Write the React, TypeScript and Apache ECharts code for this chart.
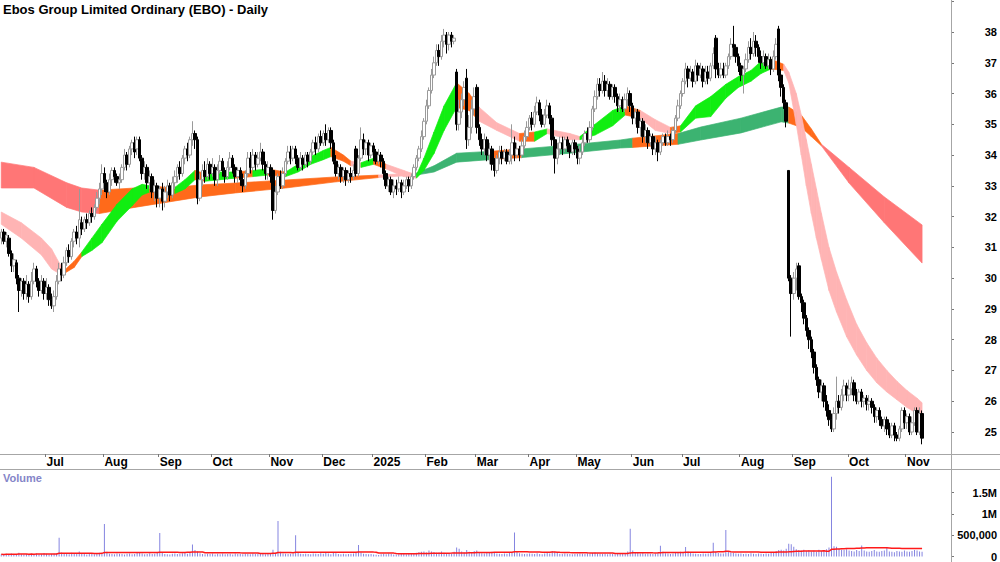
import React, { useEffect, useRef } from 'react';
import * as echarts from 'echarts';

const TITLE = 'Ebos Group Limited Ordinary (EBO) - Daily';
const START_DATE = '2024-06-04';
const TOTAL_SLOTS = 378;
const HOLIDAYS = ['2024-06-10', '2024-12-25', '2024-12-26', '2025-01-01', '2025-01-27', '2025-04-18', '2025-04-21', '2025-04-25', '2025-06-09'];
const MONTHS = ['Jan', 'Feb', 'Mar', 'Apr', 'May', 'Jun', 'Jul', 'Aug', 'Sep', 'Oct', 'Nov', 'Dec'];
const PRICE_TICKS = [25, 26, 27, 28, 29, 30, 31, 32, 33, 34, 35, 36, 37, 38];

// daily candles: [open, close, low, high]
const ohlc = [
  [31.3,31.5,31.1,31.6],[31.5,31.2,31.1,31.6],[31.2,31.4,31.0,31.5],[31.3,30.8,30.7,31.4],[30.8,30.4,30.2,30.9],
  [30.4,30.6,30.2,30.8],[30.5,30.0,29.8,30.6],[30.0,29.6,28.9,30.1],[29.6,29.9,29.4,30.0],[29.9,29.5,29.3,30.0],
  [29.5,29.8,29.3,30.1],[29.8,29.4,29.2,29.9],[29.4,29.9,29.3,30.2],[29.9,30.3,29.8,30.5],[30.3,29.9,29.7,30.4],
  [29.9,29.6,29.4,30.0],[29.6,29.9,29.5,30.1],[29.9,29.5,29.3,30.0],[29.5,29.7,29.3,30.0],[29.7,29.3,29.1,29.8],
  [29.3,29.1,29.0,29.5],[29.1,29.4,28.9,29.6],[29.4,29.9,29.3,30.1],[29.9,30.3,29.8,30.5],[30.3,30.1,29.9,30.5],
  [30.1,30.5,30.0,30.7],[30.5,30.9,30.4,31.0],[30.9,30.7,30.5,31.1],[30.7,31.2,30.6,31.3],[31.2,31.5,31.0,31.6],
  [31.5,31.3,31.1,31.7],[31.3,31.9,31.0,32.9],[31.8,31.6,31.4,32.0],[31.6,31.9,31.5,32.0],[31.9,31.8,31.6,32.1],
  [31.8,32.1,31.7,32.2],[32.1,32.0,31.8,32.3],[32.0,32.3,31.9,32.4],[32.3,32.6,32.2,32.8],[32.6,32.9,32.4,33.1],
  [32.9,33.4,32.7,33.7],[33.4,33.1,32.8,33.6],[33.1,32.8,32.6,33.2],[32.8,33.2,32.7,33.4],[33.2,33.5,33.0,33.6],
  [33.5,33.3,33.1,33.6],[33.3,33.1,33.0,33.4],[33.1,33.2,32.9,33.4],[33.2,33.6,33.1,33.7],[33.6,34.0,33.5,34.2],
  [34.0,33.7,33.5,34.1],[33.7,34.2,33.6,34.3],[34.2,34.4,34.0,34.5],[34.4,34.1,33.9,34.6],[34.2,34.5,34.0,34.6],
  [34.5,33.9,33.8,34.6],[33.9,33.4,33.2,34.0],[33.4,33.6,33.2,33.8],[33.6,33.1,32.9,33.7],[33.1,33.3,32.9,33.5],
  [33.3,32.8,32.6,33.4],[32.8,33.0,32.5,33.2],[33.0,32.6,32.3,33.1],[32.6,32.9,32.3,33.0],[32.9,32.5,32.2,33.1],
  [32.5,32.8,32.3,33.0],[32.8,33.0,32.6,33.2],[33.0,32.7,32.5,33.1],[32.7,33.1,32.6,33.3],[33.1,33.3,32.9,33.5],
  [33.3,33.6,33.1,33.7],[33.6,33.4,33.2,33.8],[33.4,33.9,33.3,34.0],[33.9,34.2,33.7,34.3],[34.2,34.0,33.8,34.4],
  [34.0,34.5,33.9,34.6],[34.5,34.7,34.3,35.1],[34.7,34.5,34.2,34.8],[34.5,32.6,32.4,34.6],[32.6,33.2,32.5,33.4],
  [33.2,33.5,33.0,33.7],[33.5,33.3,33.1,33.8],[33.3,33.7,33.2,33.9],[33.7,33.4,33.2,33.8],[33.4,33.6,33.3,33.9],
  [33.6,33.2,33.0,33.7],[33.2,33.5,33.0,33.7],[33.5,33.8,33.4,34.0],[33.8,33.5,33.3,33.9],[33.5,33.3,33.1,33.6],
  [33.3,33.6,33.2,33.8],[33.6,33.9,33.5,34.1],[33.9,33.6,33.4,34.0],[33.6,33.3,33.1,33.7],[33.3,33.5,33.1,33.6],
  [33.5,33.2,33.0,33.6],[33.2,33.0,32.8,33.4],[33.0,33.4,32.9,33.5],[33.4,33.9,33.3,34.1],[33.9,33.6,33.4,34.1],
  [33.6,34.0,33.5,34.2],[34.0,33.7,33.5,34.1],[33.7,33.9,33.6,34.1],[33.9,34.1,33.8,34.4],[34.1,33.7,33.5,34.2],
  [33.7,33.4,33.2,33.8],[33.4,33.6,33.2,33.8],[33.6,33.3,33.1,33.7],[33.5,32.2,31.9,33.6],[32.2,32.8,32.1,33.0],
  [32.8,33.3,32.7,33.4],[33.3,33.0,32.9,33.5],[33.0,33.4,32.9,33.6],[33.4,33.8,33.3,33.9],[33.8,34.1,33.7,34.3],
  [34.1,33.9,33.7,34.3],[33.9,34.2,33.8,34.3],[34.2,33.9,33.7,34.3],[33.9,33.6,33.5,34.0],[33.6,33.9,33.5,34.1],
  [33.9,33.7,33.5,34.0],[33.7,34.0,33.6,34.1],[34.0,33.8,33.6,34.1],[33.8,34.1,33.7,34.2],[34.1,34.4,34.0,34.5],
  [34.4,34.2,34.0,34.6],[34.2,34.6,34.1,34.7],[34.6,34.4,34.3,34.8],[34.4,34.7,34.3,34.8],[34.7,34.5,34.3,35.0],
  [34.5,34.8,34.4,34.9],[34.8,34.4,34.2,34.9],[34.4,33.8,33.7,34.5],[33.8,33.4,33.3,34.0],[33.4,33.6,33.2,33.7],
  [33.6,33.3,33.1,33.7],[33.3,33.5,33.1,33.6],[33.5,33.2,33.0,33.6],[33.2,33.4,33.1,33.5],[33.4,33.3,33.1,33.6],
  [33.3,33.5,33.2,33.7],[34.2,33.4,33.3,34.3],[33.4,33.9,33.3,34.0],[33.9,34.5,33.8,34.9],[34.5,34.2,34.0,34.7],
  [34.2,34.4,34.0,34.5],[34.4,34.0,33.8,34.5],[34.0,34.3,33.9,34.4],[34.3,34.1,33.8,34.4],[34.1,33.8,33.7,34.2],
  [33.8,34.0,33.7,34.2],[34.0,33.8,33.6,34.1],[33.8,33.4,33.2,33.9],[33.4,33.0,32.9,33.5],[33.0,33.2,32.8,33.3],
  [33.2,32.8,32.7,33.3],[32.8,33.0,32.6,33.2],[33.0,32.9,32.7,33.2],[32.9,33.1,32.8,33.3],[33.1,32.8,32.6,33.2],
  [32.8,33.0,32.7,33.2],[33.0,33.2,32.9,33.3],[33.2,33.0,32.8,33.3],[33.0,33.3,32.9,33.4],[33.3,33.6,33.2,33.7],
  [33.6,33.9,33.5,34.0],[33.9,34.2,33.8,34.3],[34.2,34.6,34.1,34.8],[34.6,35.1,34.5,35.2],[35.1,35.6,35.0,35.8],
  [35.6,36.1,35.5,36.2],[36.1,36.6,36.0,36.8],[36.6,37.0,36.5,37.2],[37.0,37.4,36.9,37.6],[37.4,37.2,36.9,37.6],
  [37.2,37.7,37.1,37.9],[37.7,37.9,37.5,38.1],[37.9,37.6,37.3,38.0],[37.6,37.9,37.4,38.0],[37.9,37.7,37.5,38.0],
  [37.7,37.8,37.6,37.9],[36.7,35.0,34.8,36.8],[35.0,35.4,34.8,35.8],[35.4,35.8,35.2,36.0],[35.8,36.2,35.6,36.4],
  [36.5,34.5,34.2,36.8],[34.5,34.9,34.3,35.3],[34.9,35.5,34.7,35.8],[35.5,35.9,35.3,36.2],[36.2,34.9,34.7,36.3],
  [34.9,34.5,34.3,35.0],[34.5,34.2,34.0,34.7],[34.2,34.5,34.0,34.7],[34.5,34.0,33.8,34.6],[34.0,34.2,33.7,34.4],
  [34.2,33.7,33.5,34.3],[33.7,33.5,33.3,33.9],[33.5,33.9,33.4,34.0],[33.9,34.1,33.7,34.3],[34.1,33.9,33.7,34.3],
  [33.9,34.1,33.8,34.2],[34.1,33.8,33.7,34.2],[33.8,34.0,33.7,34.2],[34.0,34.4,33.7,35.0],[34.4,34.0,33.8,34.6],
  [34.0,34.2,33.9,34.4],[34.2,34.0,33.8,34.3],[34.0,34.3,33.9,34.5],[34.3,34.6,34.2,34.8],[34.6,34.9,34.5,35.1],
  [34.9,35.2,34.8,35.3],[35.2,35.0,34.8,35.4],[35.0,35.4,34.9,35.6],[35.4,35.7,35.3,35.9],[35.7,35.3,35.1,35.8],
  [35.3,35.0,34.9,35.5],[35.0,35.3,34.9,35.5],[35.3,35.6,35.2,35.8],[35.6,35.2,35.0,35.7],[35.2,34.5,34.3,35.3],
  [34.5,33.9,33.4,34.6],[33.9,34.2,33.7,34.4],[34.2,34.4,34.0,34.6],[34.4,34.2,34.0,34.6],[34.2,34.5,34.1,34.6],
  [34.5,34.3,34.1,34.6],[34.3,34.1,33.9,34.4],[34.1,34.4,34.0,34.5],[34.4,34.2,34.0,34.5],[34.2,33.9,33.7,34.3],
  [33.9,34.1,33.7,34.3],[34.1,34.4,34.0,34.6],[34.4,34.7,34.3,34.8],[34.7,34.5,34.4,34.9],[34.5,34.9,34.4,35.1],
  [34.9,35.5,34.8,35.6],[35.5,35.9,35.4,36.1],[35.9,36.3,35.8,36.5],[36.3,36.1,35.9,36.5],[36.1,36.4,36.0,36.7],
  [36.4,36.1,35.9,36.6],[36.1,36.3,35.9,36.5],[36.3,35.9,35.8,36.4],[35.9,36.2,35.8,36.3],[36.2,35.9,35.7,36.3],
  [35.9,35.6,35.4,36.0],[35.6,35.8,35.4,36.0],[35.8,35.5,35.4,35.9],[35.5,35.8,35.4,36.0],[35.8,36.0,35.6,36.2],
  [36.0,35.6,35.4,36.1],[35.6,35.2,35.0,35.7],[35.2,35.4,35.0,35.5],[35.4,34.9,34.7,35.5],[34.9,35.1,34.6,35.2],
  [35.1,34.6,34.4,35.2],[34.6,34.8,34.4,35.0],[34.8,34.4,34.2,34.9],[34.4,34.6,34.3,34.7],[34.6,34.2,34.0,34.7],
  [34.2,34.4,34.0,34.6],[34.4,34.1,33.8,34.5],[34.1,34.4,34.0,34.5],[34.4,34.6,34.3,34.7],[34.6,34.4,34.3,34.7],
  [34.4,34.6,34.3,34.8],[34.6,34.5,34.3,34.7],[34.5,34.8,34.4,34.9],[34.8,35.2,34.7,35.3],[35.2,35.6,35.1,35.8],
  [35.6,36.0,35.5,36.1],[36.0,36.4,35.9,36.5],[36.4,36.8,36.3,37.0],[36.8,36.5,36.2,36.9],[36.5,36.7,36.4,36.9],
  [36.7,36.4,36.2,36.8],[36.4,36.9,36.3,37.1],[36.9,36.6,36.4,37.0],[36.6,36.8,36.5,37.0],[36.8,36.4,36.2,36.9],
  [36.4,36.7,36.3,36.9],[36.7,36.5,36.3,36.9],[36.5,36.9,36.4,37.0],[36.9,37.3,36.8,37.5],[37.8,36.8,36.5,37.9],
  [36.8,36.6,36.5,37.0],[36.6,36.8,36.5,37.0],[36.8,36.6,36.5,37.0],[36.6,36.9,36.5,37.0],[36.9,37.2,36.8,37.3],
  [37.2,37.6,37.1,37.8],[37.6,37.5,37.2,38.2],[37.5,37.2,37.0,37.6],[37.2,36.9,36.7,37.3],[36.9,36.6,36.4,37.0],
  [36.6,36.8,36.0,36.9],[36.8,37.1,36.7,37.3],[37.1,37.5,37.0,37.7],[37.5,37.3,37.1,37.8],[37.3,37.7,37.2,38.0],
  [37.7,37.5,37.2,37.9],[37.5,37.2,37.0,37.6],[37.2,37.0,36.8,37.4],[37.0,37.2,36.9,37.4],[37.2,36.9,36.8,37.3],
  [36.9,37.1,36.8,37.3],[37.1,36.8,36.6,37.2],[36.8,37.2,36.7,37.4],[37.2,37.6,37.1,37.8],[38.1,36.6,36.4,38.2],
  [36.6,36.2,35.9,36.8],[36.2,35.7,35.5,36.3],[35.7,35.1,34.9,35.8],[33.5,30.0,29.9,33.5],[30.0,29.5,28.1,30.1],
  [29.5,30.0,29.3,30.2],[30.0,30.3,29.6,30.5],[30.4,29.4,29.3,30.5],[29.4,29.2,28.9,29.5],[29.2,28.7,28.5,29.3],
  [28.7,28.3,28.1,28.8],[28.3,28.0,27.7,28.4],[28.0,27.6,27.4,28.1],[27.6,27.1,26.9,27.7],[27.1,26.7,26.5,27.2],
  [26.7,26.3,26.1,26.8],[26.3,26.5,26.0,26.7],[26.5,26.0,25.8,26.6],[26.0,25.7,25.5,26.2],[25.7,25.4,25.2,25.9],
  [25.4,25.1,25.0,25.6],[25.1,25.6,25.0,25.8],[25.6,26.0,25.4,26.8],[26.0,25.8,25.6,26.2],[25.8,26.2,25.7,26.4],
  [26.2,26.5,26.0,26.7],[26.5,26.2,26.0,26.6],[26.2,26.4,26.0,26.7],[26.4,26.6,26.2,26.8],[26.6,26.2,26.0,26.7],
  [26.2,26.0,25.9,26.4],[26.0,26.3,25.9,26.4],[26.3,26.0,25.8,26.4],[26.0,26.1,25.8,26.2],[26.1,25.9,25.7,26.2],
  [25.9,26.0,25.7,26.2],[26.0,25.8,25.6,26.1],[25.8,25.5,25.3,25.9],[25.5,25.7,25.3,25.8],[25.7,25.4,25.2,25.8],
  [25.4,25.2,25.1,25.5],[25.2,25.4,25.0,25.5],[25.4,25.1,24.9,25.5],[25.1,24.9,24.8,25.3],[24.9,25.2,24.8,25.3],
  [25.2,24.9,24.7,25.3],[24.9,24.8,24.7,25.0],[24.8,25.1,24.7,25.2],[25.1,25.7,25.0,25.8],[25.7,25.3,25.1,25.8],
  [25.3,25.5,25.1,25.6],[25.5,25.0,24.9,25.6],[25.0,25.3,24.9,25.5],[25.3,25.7,25.2,25.8],[25.7,25.0,24.9,25.8],
  [25.0,25.6,24.9,25.8],[25.6,24.8,24.6,25.7]
];

// daily volume in thousands of shares
const volumeK = [
  55,40,62,48,70,45,58,90,52,44, 60,38,66,50,72,47,55,80,63,49, 58,66,75,440,95,60,70,52,85,64,
  78,120,58,66,49,72,60,55,68,90, 75,760,110,64,58,50,70,62,57,48, 66,72,54,60,80,95,70,52,61,75,
  58,66,90,550,85,60,55,49,64,70, 58,62,75,80,66,90,280,150,120,74, 60,52,66,58,70,47,62,55,68,50,
  57,63,48,70,56,62,51,66,60,54, 72,58,64,80,62,55,68,74,160,90, 830,110,70,64,58,66,72,500,95,62,
  56,64,60,52,70,66,58,75,62,80, 68,54,95,78,60,55,64,50,58,62, 70,88,270,96,64,58,52,60,45,40,
  38,55,62,50,70,58,48,44,52,60, 56,50,62,58,70,85,98,110,120,95, 140,115,105,88,96,120,90,84,76,70,
  110,210,180,120,96,150,110,90,130,140, 88,76,70,92,80,110,96,70,64,58, 72,66,80,90,560,110,74,66,58,62,
  70,64,58,76,60,55,68,90,72,130, 110,80,62,56,70,64,58,52,60,66, 70,62,58,74,66,80,92,70,64,58,
  62,55,68,60,52,58,64,70,80,120, 650,140,96,80,72,85,66,70,62,58, 64,90,250,110,76,68,60,72,80,90,
  110,96,220,120,84,70,66,60,58,72, 66,70,84,320,110,80,72,68,620,130, 96,80,72,64,70,58,66,60,74,62,
  56,70,64,58,72,66,80,90,130,150, 160,140,180,300,290,230,170,150,140,160, 130,150,120,140,110,160,130,150,170,210,
  1870,240,230,180,160,150,170,140,130,120, 150,130,260,140,120,110,130,150,120,110, 130,140,210,120,110,100,130,120,110,140,
  120,110,130,150,140,120,110
];

// short-term moving-average ribbon, read at sample bars: bar index, upper, lower, colour state from that bar on
const shortIdx = [0,8,16,20,23,25,29,32,36,40,46,52,56,59,66,69,73,77,81,87,93,100,106,113,118,123,128,131,136,139,143,148,153,160,165,168,172,176,181,186,190,197,206,212,217,226,230,236,243,248,254,260,266,270,276,282,288,293,298,302,306,311,313,316,318,320,322,324,326,329,332,336,340,344,348,352,356,360,364,366];
const shortUp = [32.15,31.8,31.3,30.95,30.5,30.25,30.55,30.85,31.3,31.75,32.4,32.9,33.05,33.0,32.95,32.95,33.2,33.5,33.4,33.45,33.45,33.5,33.55,33.45,33.7,33.95,34.15,34.25,34.0,33.8,33.75,33.9,33.7,33.5,33.35,33.9,34.75,35.6,36.35,36.0,35.55,35.05,34.7,34.75,34.85,34.7,34.6,35.0,35.45,35.6,35.45,35.15,34.9,34.95,35.6,35.9,36.3,36.55,36.75,37.05,37.12,36.95,36.7,36.0,35.3,34.5,33.7,32.9,32.1,31.0,30.2,29.3,28.5,27.9,27.4,27.0,26.65,26.35,26.1,25.95];
const shortLo = [31.75,31.3,30.75,30.3,30.15,30.15,30.35,30.7,30.9,31.15,31.85,32.35,32.7,32.8,32.8,32.75,32.9,33.2,33.15,33.2,33.25,33.3,33.35,33.3,33.45,33.7,33.85,33.95,33.8,33.65,33.6,33.7,33.55,33.3,33.25,33.5,34.05,34.8,35.55,35.45,35.1,34.8,34.45,34.45,34.7,34.5,34.5,34.65,34.95,35.3,35.2,34.8,34.7,34.75,35.2,35.25,35.85,36.2,36.4,36.65,36.8,36.75,36.35,35.0,34.0,33.0,32.1,31.3,30.6,29.6,28.9,28.1,27.5,27.0,26.6,26.3,26.05,25.8,25.6,25.5];
const shortState = ['P','P','P','P','P','O','O','G','G','G','G','G','G','O','O','G','G','O','G','G','O','G','O','G','G','G','G','O','O','P','G','O','P','P','G','G','G','G','O','O','P','P','O','G','P','P','G','G','G','O','P','P','O','G','G','G','G','G','G','G','O','P','P','P','P','P','P','P','P','P','P','P','P','P','P','P','P','P','P','P'];

// long-term moving-average ribbon
const longIdx = [0,13,26,32,39,53,66,79,93,113,133,150,165,172,181,194,207,226,246,251,269,278,294,310,313,318,322,326,337,351,366];
const longUp = [33.77,33.6,33.1,32.93,32.86,32.93,32.93,33.03,33.09,33.19,33.29,33.35,33.42,33.65,34.06,34.12,34.2,34.33,34.49,34.55,34.7,34.91,35.2,35.56,35.56,35.3,34.85,34.35,33.6,32.64,31.73];
const longLo = [32.93,32.93,32.3,32.15,32.1,32.3,32.47,32.64,32.77,32.93,33.13,33.27,33.35,33.45,33.77,33.85,33.92,34.06,34.23,34.25,34.35,34.49,34.72,35.08,35.04,34.9,34.6,34.3,33.09,31.8,30.49];
const longState = ['R','R','R','R','O','O','O','O','O','O','O','P','G','G','G','O','G','G','G','O','G','G','G','G','O','O','O','R','R','R','R'];

const SHORT_COLORS: Record<string, string> = { G: '#11ee11', O: '#ff6a1a', P: '#ffb4b4' };
const LONG_COLORS: Record<string, string> = { G: '#3cb371', O: '#ff6a1a', R: '#ff7676', P: '#ffb4b4' };

const FONT = "'Liberation Sans', Arial, sans-serif";
const NARROW_FONT = "'Liberation Sans Narrow', 'Arial Narrow', 'Liberation Sans', sans-serif";

function tradingDays(start: string, n: number): string[] {
  const out: string[] = [];
  const d = new Date(start + 'T00:00:00Z');
  while (out.length < n) {
    const dow = d.getUTCDay();
    const iso = d.toISOString().slice(0, 10);
    if (dow !== 0 && dow !== 6 && HOLIDAYS.indexOf(iso) < 0) out.push(iso);
    d.setUTCDate(d.getUTCDate() + 1);
  }
  return out;
}

function ribbonSegments(idx: number[], up: number[], lo: number[]) {
  const out: number[][] = [];
  for (let k = 0; k < idx.length - 1; k++) {
    out.push([idx[k], up[k], lo[k], idx[k + 1], up[k + 1], lo[k + 1]]);
  }
  return out;
}

function ribbonSeries(name: string, idx: number[], up: number[], lo: number[], state: string[], palette: Record<string, string>, z: number) {
  const fills = state.map((s) => palette[s]);
  return {
    name,
    type: 'custom',
    xAxisIndex: 0,
    yAxisIndex: 0,
    z,
    silent: true,
    clip: true,
    dimensions: ['x0', 'u0', 'l0', 'x1', 'u1', 'l1'],
    encode: { x: [0, 3], y: [1, 2, 4, 5] },
    data: ribbonSegments(idx, up, lo),
    renderItem: (params: any, api: any) => {
      const a = api.coord([api.value(0), api.value(1)]);
      const b = api.coord([api.value(3), api.value(4)]);
      const c = api.coord([api.value(3), api.value(5)]);
      const d = api.coord([api.value(0), api.value(2)]);
      const fill = fills[params.dataIndex];
      return {
        type: 'polygon',
        shape: { points: [a, b, c, d] },
        style: { fill, stroke: fill, lineWidth: 0.7 },
      };
    },
  };
}

export default function App() {
  const ref = useRef<HTMLDivElement>(null);

  useEffect(() => {
    if (!ref.current) return;
    const chart = echarts.init(ref.current, null, { renderer: 'svg' });
    const dates = tradingDays(START_DATE, TOTAL_SLOTS);
    const isMonthStart = (i: number) => i > 0 && dates[i].slice(0, 7) !== dates[i - 1].slice(0, 7);
    const monthLabel = (v: string) => {
      const m = parseInt(v.slice(5, 7), 10);
      return m === 1 ? v.slice(0, 4) : MONTHS[m - 1];
    };
    const volume = volumeK.map((v) => v * 1000);
    const volAvg: number[] = [];
    const WIN = 40;
    for (let i = 0; i < volume.length; i++) {
      let s = 0;
      let n = 0;
      for (let j = Math.max(0, i - WIN + 1); j <= i; j++) { s += volume[j]; n++; }
      volAvg.push(Math.round(s / n));
    }

    const axisGray = '#a6a6a6';
    const option: any = {
      animation: false,
      backgroundColor: '#ffffff',
      textStyle: { fontFamily: FONT },
      title: {
        text: TITLE,
        left: 3,
        top: 3,
        padding: 0,
        textStyle: { fontFamily: NARROW_FONT, fontSize: 13, fontWeight: 'bold', color: '#000' },
      },
      grid: [
        { left: 0, top: 0, width: 951, height: 454 },
        { left: 0, top: 472, width: 951, height: 86 },
      ],
      xAxis: [
        {
          type: 'category',
          gridIndex: 0,
          data: dates,
          boundaryGap: true,
          axisLine: { lineStyle: { color: axisGray, width: 1 } },
          axisTick: { show: true, interval: (i: number) => isMonthStart(i), length: 3, lineStyle: { color: '#777' } },
          axisLabel: {
            interval: (i: number) => isMonthStart(i),
            formatter: monthLabel,
            align: 'left',
            margin: 2,
            fontFamily: FONT,
            fontSize: 12,
            fontWeight: 'bold',
            color: '#000',
          },
          splitLine: { show: false },
        },
        {
          type: 'category',
          gridIndex: 1,
          data: dates,
          boundaryGap: true,
          axisLine: { show: false },
          axisTick: { show: false },
          axisLabel: { show: false },
          splitLine: { show: false },
        },
      ],
      yAxis: [
        {
          type: 'value',
          gridIndex: 0,
          position: 'right',
          min: 24.285,
          max: 39.04,
          minInterval: 1,
          maxInterval: 1,
          splitNumber: 15,
          scale: true,
          axisLine: { show: true, lineStyle: { color: axisGray } },
          axisTick: { show: true, length: 3, lineStyle: { color: '#777' } },
          axisLabel: {
            align: 'right',
            margin: 46,
            fontFamily: FONT,
            fontSize: 11,
            fontWeight: 'bold',
            color: '#000',
            showMinLabel: false,
            showMaxLabel: false,
            formatter: (v: number) => (PRICE_TICKS.indexOf(Math.round(v * 1000) / 1000) >= 0 ? String(v) : ''),
          },
          splitLine: { show: false },
        },
        {
          type: 'value',
          gridIndex: 1,
          position: 'right',
          min: 0,
          max: 1981000,
          interval: 500000,
          axisLine: { show: true, lineStyle: { color: axisGray } },
          axisTick: { show: true, length: 3, lineStyle: { color: '#777' } },
          axisLabel: {
            align: 'right',
            margin: 46,
            fontFamily: FONT,
            fontSize: 11,
            fontWeight: 'bold',
            color: '#000',
            showMaxLabel: false,
            formatter: (v: number) => {
              if (v % 500000 !== 0) return '';
              if (v >= 1000000) return v / 1000000 + 'M';
              return v.toLocaleString('en-US');
            },
          },
          splitLine: { show: false },
        },
      ],
      series: [
        ribbonSeries('Long MA ribbon', longIdx, longUp, longLo, longState, LONG_COLORS, 1),
        ribbonSeries('Short MA ribbon', shortIdx, shortUp, shortLo, shortState, SHORT_COLORS, 2),
        {
          name: 'EBO',
          type: 'candlestick',
          xAxisIndex: 0,
          yAxisIndex: 0,
          z: 5,
          barWidth: 3,
          data: ohlc,
          itemStyle: {
            color: '#ffffff',
            color0: '#000000',
            borderColor: '#9a9a9a',
            borderColor0: '#000000',
            borderWidth: 1,
          },
        },
        {
          name: 'Volume',
          type: 'bar',
          xAxisIndex: 1,
          yAxisIndex: 1,
          barWidth: 1,
          data: volume,
          itemStyle: { color: '#8585e0' },
        },
        {
          name: 'Volume average',
          type: 'line',
          xAxisIndex: 1,
          yAxisIndex: 1,
          data: volAvg,
          symbol: 'none',
          z: 6,
          lineStyle: { color: '#ff1a1a', width: 1.5 },
        },
      ],
      graphic: [
        { type: 'line', z: 100, shape: { x1: 951, y1: 454.5, x2: 1000, y2: 454.5 }, style: { stroke: axisGray, lineWidth: 1 } },
        { type: 'line', z: 100, shape: { x1: 0, y1: 469.5, x2: 1000, y2: 469.5 }, style: { stroke: axisGray, lineWidth: 1 } },
        { type: 'line', z: 100, shape: { x1: 951.5, y1: 0, x2: 951.5, y2: 562 }, style: { stroke: axisGray, lineWidth: 1 } },
        {
          type: 'text',
          left: 3,
          top: 472,
          style: { text: 'Volume', fill: '#8585c8', font: `bold 11px ${FONT}` },
        },
      ],
    };
    chart.setOption(option);
    return () => chart.dispose();
  }, []);

  return <div ref={ref} style={{ position: 'fixed', left: 0, top: 0, width: 1000, height: 562 }} />;
}
